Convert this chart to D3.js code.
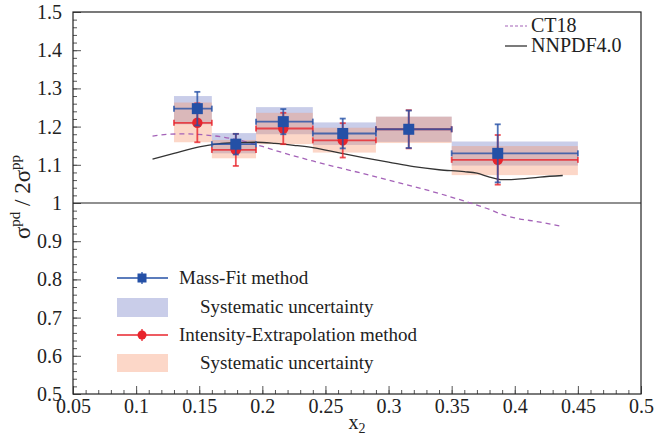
<!DOCTYPE html>
<html>
<head>
<meta charset="utf-8">
<script src="https://cdn.jsdelivr.net/npm/d3@7"></script>
<style>
  body { margin: 0; background: #fff; }
  text { font-family: "Liberation Serif", "Times New Roman", serif; fill: #222; }
</style>
</head>
<body>
<script>
// bin edges in x2
var binLo = [0.13, 0.16, 0.195, 0.24, 0.29, 0.35];
var binHi = [0.16, 0.195, 0.24, 0.29, 0.35, 0.45];
var binX  = [0.1485, 0.179, 0.2166, 0.2637, 0.316, 0.3865];

// Mass-Fit method
var mfY       = [1.247, 1.154, 1.213, 1.182, 1.193, 1.130];
var mfStat    = [0.044, 0.027, 0.033, 0.039, 0.049, 0.076];
var mfSysUp   = [0.033, 0.029, 0.038, 0.029, 0.033, 0.031];
var mfSysDown = [0.041, 0.024, 0.033, 0.030, 0.033, 0.032];

// Intensity-Extrapolation method
var ieY       = [1.210, 1.139, 1.195, 1.164, 1.193, 1.113];
var ieStat    = [0.051, 0.042, 0.041, 0.045, 0.050, 0.065];
var ieSysUp   = [0.053, 0.026, 0.041, 0.033, 0.033, 0.036];
var ieSysDown = [0.051, 0.022, 0.041, 0.032, 0.036, 0.040];

// theory curves
var ct18X = [0.113, 0.125, 0.14, 0.155, 0.17, 0.185, 0.2, 0.22, 0.24, 0.26, 0.28, 0.30, 0.32, 0.34, 0.36, 0.38, 0.39, 0.40, 0.42, 0.438];
var ct18Y = [1.175, 1.180, 1.181, 1.178, 1.172, 1.162, 1.148, 1.128, 1.110, 1.093, 1.077, 1.060, 1.043, 1.025, 1.005, 0.983, 0.970, 0.961, 0.950, 0.938];
var nnX = [0.113, 0.13, 0.15, 0.165, 0.18, 0.195, 0.21, 0.225, 0.24, 0.26, 0.28, 0.30, 0.32, 0.34, 0.36, 0.37, 0.38, 0.39, 0.40, 0.42, 0.438];
var nnY = [1.115, 1.130, 1.147, 1.155, 1.158, 1.159, 1.156, 1.151, 1.145, 1.132, 1.119, 1.107, 1.095, 1.087, 1.082, 1.078, 1.068, 1.061, 1.062, 1.068, 1.072];

var xTicks = [0.05, 0.1, 0.15, 0.2, 0.25, 0.3, 0.35, 0.4, 0.45, 0.5];
var yTicks = [0.5, 0.6, 0.7, 0.8, 0.9, 1.0, 1.1, 1.2, 1.3, 1.4, 1.5];

var width = 670, height = 439;
var mLeft = 73, mRight = 641, mTop = 12, mBottom = 394;

var blue = '#2450a6', red = '#e8242c';

var x = d3.scaleLinear().domain([0.05, 0.5]).range([mLeft, mRight]);
var y = d3.scaleLinear().domain([0.5, 1.5]).range([mBottom, mTop]);

var svg = d3.select('body').append('svg')
  .attr('width', width)
  .attr('height', height);

svg.append('rect').attr('width', width).attr('height', height).attr('fill', '#fff');

// minor ticks
var xMinor = d3.range(0.05, 0.5001, 0.01).map(v => +v.toFixed(3));
var yMinor = d3.range(0.5, 1.5001, 0.02).map(v => +v.toFixed(3));

svg.append('g')
  .attr('transform', `translate(0, ${mBottom})`)
  .call(d3.axisBottom(x).tickValues(xMinor).tickFormat('').tickSizeInner(-4).tickSizeOuter(0))
  .call(g => g.select('.domain').remove())
  .selectAll('line').attr('stroke', '#555');

svg.append('g')
  .attr('transform', `translate(${mLeft}, 0)`)
  .call(d3.axisLeft(y).tickValues(yMinor).tickFormat('').tickSizeInner(-4).tickSizeOuter(0))
  .call(g => g.select('.domain').remove())
  .selectAll('line').attr('stroke', '#555');

// major ticks + labels
var xAxis = svg.append('g')
  .attr('transform', `translate(0, ${mBottom})`)
  .call(d3.axisBottom(x).tickValues(xTicks).tickFormat(d => String(+d.toFixed(2))).tickSizeInner(-8).tickSizeOuter(0).tickPadding(5));
xAxis.select('.domain').remove();
xAxis.selectAll('line').attr('stroke', '#555');
xAxis.selectAll('text').attr('font-size', 20).attr('fill', '#222').style('font-family', '"Liberation Serif", serif');

var yAxis = svg.append('g')
  .attr('transform', `translate(${mLeft}, 0)`)
  .call(d3.axisLeft(y).tickValues(yTicks).tickFormat(d => String(+d.toFixed(2))).tickSizeInner(-8).tickSizeOuter(0).tickPadding(11));
yAxis.select('.domain').remove();
yAxis.selectAll('line').attr('stroke', '#555');
yAxis.selectAll('text').attr('font-size', 20).attr('fill', '#222').style('font-family', '"Liberation Serif", serif');

// frame
svg.append('rect')
  .attr('x', mLeft).attr('y', mTop)
  .attr('width', mRight - mLeft).attr('height', mBottom - mTop)
  .attr('fill', 'none').attr('stroke', '#222').attr('stroke-width', 1.2);

// line at 1
svg.append('line')
  .attr('x1', x(0.05)).attr('x2', x(0.5))
  .attr('y1', y(1)).attr('y2', y(1))
  .attr('stroke', '#222').attr('stroke-width', 1.2);

var idx = d3.range(binLo.length);

// systematic boxes
svg.append('g').selectAll('rect')
  .data(idx).enter().append('rect')
  .attr('x', i => x(binLo[i]))
  .attr('width', i => x(binHi[i]) - x(binLo[i]))
  .attr('y', i => y(mfY[i] + mfSysUp[i]))
  .attr('height', i => y(mfY[i] - mfSysDown[i]) - y(mfY[i] + mfSysUp[i]))
  .attr('fill', 'rgba(120,130,200,0.4)');

svg.append('g').selectAll('rect')
  .data(idx).enter().append('rect')
  .attr('x', i => x(binLo[i]))
  .attr('width', i => x(binHi[i]) - x(binLo[i]))
  .attr('y', i => y(ieY[i] + ieSysUp[i]))
  .attr('height', i => y(ieY[i] - ieSysDown[i]) - y(ieY[i] + ieSysUp[i]))
  .attr('fill', 'rgba(248,150,110,0.38)');

// theory curves
var line = d3.line().curve(d3.curveMonotoneX);

svg.append('path')
  .attr('d', line(ct18X.map((v, i) => [x(v), y(ct18Y[i])])))
  .attr('fill', 'none').attr('stroke', '#a462b8').attr('stroke-width', 1.3)
  .attr('stroke-dasharray', '5,4');

svg.append('path')
  .attr('d', line(nnX.map((v, i) => [x(v), y(nnY[i])])))
  .attr('fill', 'none').attr('stroke', '#333').attr('stroke-width', 1.3);

// error bars
function drawSeries(vals, stat, color, marker) {
  var g = svg.append('g');
  var cap = 3;
  idx.forEach(function(i) {
    var cx = x(binX[i]), cy = y(vals[i]);
    var x0 = x(binLo[i]), x1 = x(binHi[i]);
    var yt = y(vals[i] + stat[i]), yb = y(vals[i] - stat[i]);
    var segs = [
      [x0, cy, x1, cy],
      [x0, cy - cap, x0, cy + cap],
      [x1, cy - cap, x1, cy + cap],
      [cx, yt, cx, yb],
      [cx - cap, yt, cx + cap, yt],
      [cx - cap, yb, cx + cap, yb]
    ];
    g.selectAll(null).data(segs).enter().append('line')
      .attr('x1', d => d[0]).attr('y1', d => d[1])
      .attr('x2', d => d[2]).attr('y2', d => d[3])
      .attr('stroke', color).attr('stroke-width', 1.8).attr('stroke-opacity', 0.8);
  });
  if (marker === 'square') {
    g.selectAll('rect').data(idx).enter().append('rect')
      .attr('x', i => x(binX[i]) - 5.5).attr('y', i => y(vals[i]) - 5.5)
      .attr('width', 11).attr('height', 11).attr('fill', color);
  } else {
    g.selectAll('circle').data(idx).enter().append('circle')
      .attr('cx', i => x(binX[i])).attr('cy', i => y(vals[i]))
      .attr('r', 5.2).attr('fill', color);
  }
}

drawSeries(ieY, ieStat, red, 'circle');
drawSeries(mfY, mfStat, blue, 'square');

// axis titles
svg.append('text')
  .attr('x', 357).attr('y', 429)
  .attr('text-anchor', 'middle').attr('font-size', 20)
  .html('x<tspan font-size="14" dy="4">2</tspan>');

svg.append('text')
  .attr('transform', 'translate(30, 197) rotate(-90)')
  .attr('text-anchor', 'middle').attr('font-size', 23)
  .html('σ<tspan font-size="15" dy="-10">pd</tspan><tspan dy="10"> / 2σ</tspan><tspan font-size="15" dy="-10">pp</tspan>');

// top-right legend
var lg1 = svg.append('g');
lg1.append('line').attr('x1', 505).attr('x2', 527).attr('y1', 26).attr('y2', 26)
  .attr('stroke', '#a462b8').attr('stroke-width', 1.2).attr('stroke-dasharray', '3,2');
lg1.append('text').attr('x', 531).attr('y', 32).attr('font-size', 20).text('CT18');
lg1.append('line').attr('x1', 505).attr('x2', 527).attr('y1', 46).attr('y2', 46)
  .attr('stroke', '#333').attr('stroke-width', 1.3);
lg1.append('text').attr('x', 531).attr('y', 52).attr('font-size', 20).text('NNPDF4.0');

// bottom-left legend
var lg2 = svg.append('g');
function legendMarker(yy, color, marker) {
  lg2.append('line').attr('x1', 117).attr('x2', 168).attr('y1', yy).attr('y2', yy)
    .attr('stroke', color).attr('stroke-width', 1.3);
  lg2.append('line').attr('x1', 142).attr('x2', 142).attr('y1', yy - 6).attr('y2', yy + 6)
    .attr('stroke', color).attr('stroke-width', 1.3);
  if (marker === 'square') {
    lg2.append('rect').attr('x', 137.5).attr('y', yy - 4.5).attr('width', 9).attr('height', 9).attr('fill', color);
  } else {
    lg2.append('circle').attr('cx', 142).attr('cy', yy).attr('r', 4.5).attr('fill', color);
  }
}
legendMarker(278, blue, 'square');
lg2.append('text').attr('x', 179).attr('y', 284).attr('font-size', 19).text('Mass-Fit method');
lg2.append('rect').attr('x', 117).attr('y', 298).attr('width', 51).attr('height', 19).attr('fill', 'rgba(120,130,200,0.4)');
lg2.append('text').attr('x', 200).attr('y', 313).attr('font-size', 19).text('Systematic uncertainty');
legendMarker(335, red, 'circle');
lg2.append('text').attr('x', 179).attr('y', 341).attr('font-size', 19).text('Intensity-Extrapolation method');
lg2.append('rect').attr('x', 117).attr('y', 354).attr('width', 51).attr('height', 18).attr('fill', 'rgba(248,150,110,0.38)');
lg2.append('text').attr('x', 200).attr('y', 369).attr('font-size', 19).text('Systematic uncertainty');
</script>
</body>
</html>
